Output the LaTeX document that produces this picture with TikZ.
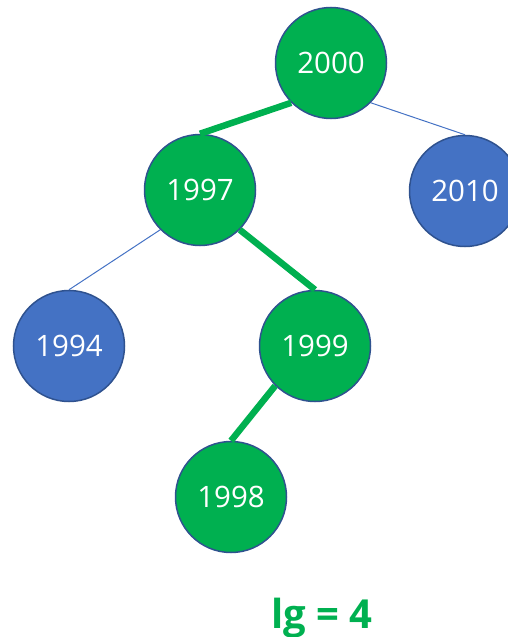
\documentclass[tikz,border=0pt]{standalone}
\usepackage{fontspec}
\setmainfont{Open Sans}
\definecolor{nodegreen}{HTML}{00B050}
\definecolor{nodeblue}{HTML}{4472C4}
\definecolor{rimblue}{HTML}{2F528F}

\begin{document}
\begin{tikzpicture}[x=1pt,y=-1pt,
  vertex/.style={circle, draw=rimblue, line width=1.5pt, minimum size=111pt, inner sep=0pt, text=white, font=\fontsize{29.5}{34}\selectfont},
  green vertex/.style={vertex, fill=nodegreen},
  blue vertex/.style={vertex, fill=nodeblue},
  path edge/.style={draw=nodegreen, line width=6.5pt},
  plain edge/.style={draw=nodeblue, line width=1pt}]

\useasboundingbox (0,0) rectangle (508,637);

\node[green vertex] (n2000) at (331,63)  {2000};
\node[green vertex] (n1997) at (200,190) {1997};
\node[blue vertex]  (n2010) at (465,191) {2010};
\node[blue vertex]  (n1994) at (69,346)  {1994};
\node[green vertex] (n1999) at (315,346) {1999};
\node[green vertex] (n1998) at (231,497) {1998};

\draw [path edge]  (n2000.south west) -- (n1997.north);
\draw [plain edge] (n2000.south east) -- (n2010.north);
\draw [plain edge] (n1997.south west) -- (n1994.north);
\draw [path edge]  (n1997.south east) -- (n1999.north);
\draw [path edge]  (n1999.south west) -- (n1998.north);

\node[anchor=base, text=nodegreen, font=\bfseries\fontsize{40}{44}\selectfont] (height) at (322,628) {lg = 4};

\end{tikzpicture}
\end{document}
